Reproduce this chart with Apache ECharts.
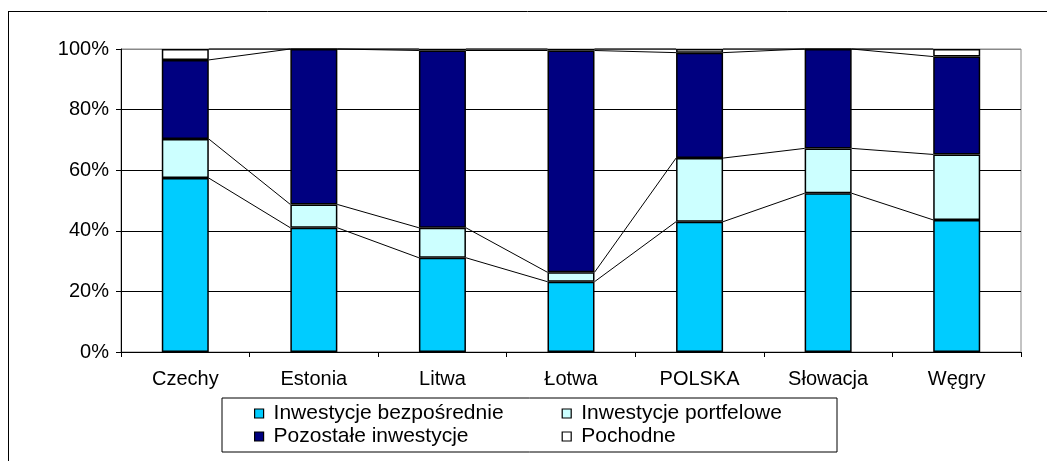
<!DOCTYPE html>
<html>
<head>
<meta charset="utf-8">
<script src="https://cdn.jsdelivr.net/npm/echarts@6/dist/echarts.min.js"></script>
<style>
  html, body { margin: 0; padding: 0; background: #fff; }
  #chart { width: 1047px; height: 461px; }
</style>
</head>
<body>
<div id="chart"></div>
<script>
// kraje
var categories = ['Czechy', 'Estonia', 'Litwa', 'Łotwa', 'POLSKA', 'Słowacja', 'Węgry'];
// udziały w %
var bezposrednie = [57.4, 41.0, 31.1, 23.2, 43.0, 52.4, 43.6];
var portfelowe   = [12.9,  7.7,  9.9,  3.1, 21.0, 14.8, 21.6];
var pozostale    = [26.1, 51.3, 58.5, 73.2, 34.8, 32.8, 32.3];
var pochodne     = [ 3.6,  0.0,  0.5,  0.5,  1.2,  0.0,  2.5];
var yTicks = [0, 20, 40, 60, 80, 100];

var BAR_W = 47;
var FONT = 'Liberation Sans, Arial, sans-serif';

// poziomy do linii łączących (skumulowane)
var levels = categories.map(function (c, i) {
  var a = bezposrednie[i], b = a + portfelowe[i], d = b + pozostale[i];
  return [a, b, d, d + pochodne[i]];
});

var chart = echarts.init(document.getElementById('chart'));

function barSeries(name, data, color) {
  return {
    name: name,
    type: 'bar',
    stack: 'all',
    data: data,
    barWidth: BAR_W,
    itemStyle: { color: color, borderColor: '#000', borderWidth: 1.5 },
    emphasis: { disabled: true }
  };
}

var option = {
  animation: false,
  textStyle: { fontFamily: FONT },
  grid: {
    left: 121, right: 26, top: 49, bottom: 109,
    show: true, borderColor: '#888', borderWidth: 1
  },
  xAxis: {
    type: 'category',
    data: categories,
    axisLine: { lineStyle: { color: '#000', width: 1 } },
    axisTick: { show: true, length: 5, lineStyle: { color: '#000' } },
    axisLabel: { color: '#000', fontSize: 20, fontFamily: FONT, margin: 17 }
  },
  yAxis: {
    type: 'value',
    min: yTicks[0],
    max: yTicks[yTicks.length - 1],
    interval: 20,
    axisLine: { show: true, lineStyle: { color: '#000', width: 1 } },
    axisTick: { show: true, length: 5, lineStyle: { color: '#000' } },
    axisLabel: { color: '#000', fontSize: 20, fontFamily: FONT, margin: 12, formatter: '{value}%' },
    splitLine: { show: true, lineStyle: { color: ['#000', '#000', '#000', '#000', '#000', '#888'], width: 1 } }
  },
  legend: {
    orient: 'vertical',
    left: 222 + 32 - 5,
    top: 398,
    height: 44,
    padding: [5, 5, 5, 5],
    itemGap: 2,
    itemWidth: 9,
    itemHeight: 9,
    icon: 'rect',
    itemStyle: { borderColor: '#000', borderWidth: 1.2 },
    data: ['Inwestycje bezpośrednie', 'Pozostałe inwestycje', 'Inwestycje portfelowe', 'Pochodne'],
    textStyle: { color: '#000', fontSize: 21, fontFamily: FONT, lineHeight: 19.6, width: 286, padding: [0, 0, 0, 5] }
  },
  graphic: [
    { type: 'rect', shape: { x: 222, y: 398, width: 615, height: 54 }, style: { fill: 'none', stroke: '#000', lineWidth: 1 }, z: 100 },
    { type: 'line', shape: { x1: 8.5, y1: 11, x2: 8.5, y2: 461 }, style: { stroke: '#000', lineWidth: 1 } },
    { type: 'line', shape: { x1: 8, y1: 11.5, x2: 1047, y2: 11.5 }, style: { stroke: '#000', lineWidth: 1 } }
  ],
  series: [
    barSeries('Inwestycje bezpośrednie', bezposrednie, '#00CCFF'),
    barSeries('Inwestycje portfelowe', portfelowe, '#CCFFFF'),
    barSeries('Pozostałe inwestycje', pozostale, '#000080'),
    barSeries('Pochodne', pochodne, '#FFFFFF'),
    {
      // linie serii między słupkami
      type: 'custom',
      silent: true,
      data: categories.slice(0, -1).map(function (c, i) { return [i]; }),
      renderItem: function (params, api) {
        var i = api.value(0);
        var hw = BAR_W / 2;
        var children = levels[i].map(function (v, k) {
          var p1 = api.coord([i, v]);
          var p2 = api.coord([i + 1, levels[i + 1][k]]);
          return {
            type: 'line',
            shape: { x1: p1[0] + hw, y1: p1[1], x2: p2[0] - hw, y2: p2[1] },
            style: { stroke: '#000', lineWidth: 1 }
          };
        });
        return { type: 'group', children: children };
      },
      z: 5
    }
  ]
};

chart.setOption(option);
</script>
</body>
</html>
